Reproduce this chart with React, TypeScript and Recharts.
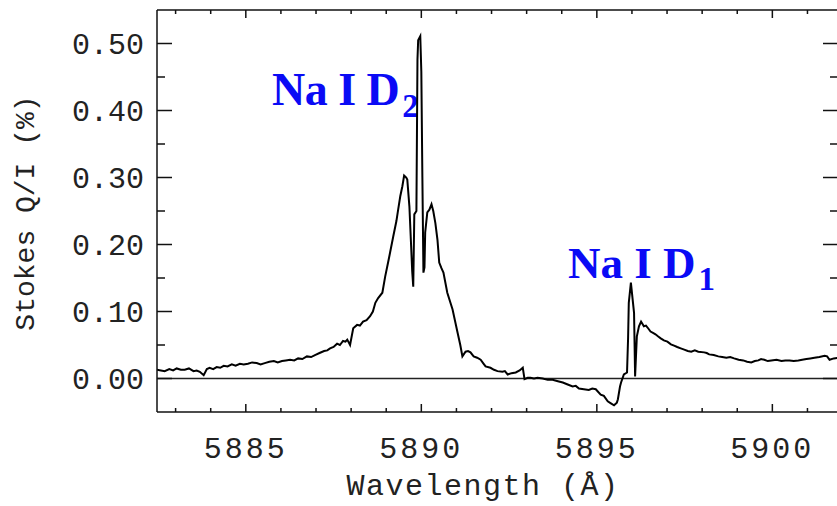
import React from "react";
import {
  LineChart,
  Line,
  XAxis,
  YAxis,
  ReferenceLine,
  Customized,
} from "recharts";

const wavelengths = [
  5882.46, 5882.58, 5882.69, 5882.82, 5882.93, 5883.03, 5883.15, 5883.26, 5883.38, 5883.51,
  5883.6, 5883.69, 5883.8, 5883.89, 5883.97, 5884.07, 5884.17, 5884.27, 5884.37, 5884.48,
  5884.6, 5884.71, 5884.83, 5884.94, 5885.06, 5885.18, 5885.31, 5885.42, 5885.54, 5885.67,
  5885.8, 5885.91, 5886.03, 5886.14, 5886.26, 5886.38, 5886.49, 5886.61, 5886.74, 5886.86,
  5886.97, 5887.1, 5887.23, 5887.32, 5887.4, 5887.5, 5887.6, 5887.68, 5887.77, 5887.84,
  5887.89, 5887.97, 5888.06, 5888.17, 5888.25, 5888.34, 5888.44, 5888.54, 5888.62, 5888.69,
  5888.77, 5888.89, 5888.97, 5889.06, 5889.11, 5889.2, 5889.29, 5889.34, 5889.4, 5889.46,
  5889.51, 5889.57, 5889.6, 5889.66, 5889.71, 5889.74, 5889.77, 5889.8, 5889.86, 5889.89,
  5889.91, 5889.97, 5890.0, 5890.03, 5890.06, 5890.09, 5890.11, 5890.17, 5890.23, 5890.29,
  5890.34, 5890.4, 5890.46, 5890.51, 5890.57, 5890.63, 5890.74, 5890.89, 5891.03, 5891.11,
  5891.17, 5891.26, 5891.33, 5891.4, 5891.49, 5891.59, 5891.69, 5891.76, 5891.83, 5891.97,
  5892.07, 5892.17, 5892.31, 5892.38, 5892.46, 5892.57, 5892.69, 5892.8, 5892.89, 5892.94,
  5893.03, 5893.11, 5893.21, 5893.31, 5893.46, 5893.6, 5893.74, 5893.89, 5894.03, 5894.17,
  5894.31, 5894.4, 5894.49, 5894.63, 5894.77, 5894.87, 5894.97, 5895.11, 5895.2, 5895.31,
  5895.4, 5895.49, 5895.57, 5895.6, 5895.66, 5895.69, 5895.77, 5895.86, 5895.89, 5895.91,
  5895.97, 5896.03, 5896.06, 5896.09, 5896.14, 5896.2, 5896.26, 5896.34, 5896.4, 5896.46,
  5896.53, 5896.6, 5896.67, 5896.74, 5896.82, 5896.91, 5897.01, 5897.11, 5897.2, 5897.29,
  5897.39, 5897.49, 5897.59, 5897.69, 5897.79, 5897.89, 5898.06, 5898.13, 5898.2, 5898.33,
  5898.46, 5898.57, 5898.69, 5898.8, 5898.91, 5899.04, 5899.17, 5899.28, 5899.4, 5899.5,
  5899.6, 5899.68, 5899.77, 5899.87, 5899.97, 5900.12, 5900.26, 5900.37, 5900.49, 5900.61,
  5900.74, 5900.85, 5900.97, 5901.08, 5901.2, 5901.34, 5901.49, 5901.56, 5901.63, 5901.75,
  5901.87,
];

const stokesQI = [
  0.013, 0.012, 0.011, 0.014, 0.012, 0.015, 0.013, 0.013, 0.015, 0.011,
  0.012, 0.01, 0.005, 0.014, 0.016, 0.014, 0.017, 0.016, 0.019, 0.018,
  0.021, 0.019, 0.022, 0.021, 0.022, 0.024, 0.023, 0.021, 0.023, 0.025,
  0.026, 0.024, 0.026, 0.027, 0.028, 0.027, 0.03, 0.029, 0.033, 0.032,
  0.035, 0.038, 0.041, 0.042, 0.045, 0.047, 0.052, 0.05, 0.056, 0.055,
  0.058, 0.05, 0.075, 0.08, 0.079, 0.085, 0.087, 0.093, 0.1, 0.113,
  0.12, 0.128, 0.152, 0.175, 0.188, 0.212, 0.235, 0.252, 0.272, 0.287,
  0.303, 0.3, 0.297, 0.257, 0.197, 0.16, 0.137, 0.245, 0.25, 0.476,
  0.505, 0.511, 0.458, 0.3, 0.158, 0.166, 0.218, 0.248, 0.252, 0.26,
  0.25, 0.232, 0.207, 0.173, 0.165, 0.158, 0.128, 0.103, 0.069, 0.05,
  0.033, 0.04, 0.041, 0.039, 0.033, 0.031, 0.028, 0.023, 0.018, 0.016,
  0.013, 0.011, 0.01, 0.011, 0.006, 0.008, 0.009, 0.012, 0.016, -0.001,
  0.001, 0.001, 0.0, 0.001, 0.0, -0.002, -0.002, -0.004, -0.006, -0.009,
  -0.012, -0.011, -0.015, -0.016, -0.017, -0.015, -0.016, -0.024, -0.026, -0.034,
  -0.037, -0.04, -0.036, -0.031, -0.012, -0.006, 0.006, 0.009, 0.06, 0.113,
  0.143, 0.113, 0.098, 0.003, 0.063, 0.078, 0.085, 0.078, 0.079, 0.075,
  0.07, 0.068, 0.066, 0.063, 0.06, 0.057, 0.055, 0.051, 0.049, 0.047,
  0.045, 0.043, 0.041, 0.04, 0.042, 0.04, 0.039, 0.038, 0.036, 0.035,
  0.033, 0.032, 0.031, 0.032, 0.03, 0.028, 0.027, 0.025, 0.024, 0.026,
  0.027, 0.029, 0.028, 0.026, 0.027, 0.028, 0.026, 0.027, 0.027, 0.026,
  0.027, 0.028, 0.029, 0.03, 0.031, 0.032, 0.034, 0.033, 0.028, 0.03,
  0.031,
];

const xTicks = [
  5883, 5884, 5885, 5886, 5887, 5888, 5889, 5890, 5891, 5892, 5893, 5894, 5895, 5896,
  5897, 5898, 5899, 5900, 5901,
];
const yTicks = [0, 0.05, 0.1, 0.15, 0.2, 0.25, 0.3, 0.35, 0.4, 0.45, 0.5];

const xDomain = [5882.47, 5901.87];
const yDomain = [-0.05, 0.55];

const data = wavelengths.map((wl, i) => ({ wl, qi: stokesQI[i] }));

const AX = "#111";
const TXT = "#222";
const MONO = "'Liberation Mono', 'DejaVu Sans Mono', monospace";

const isMajorX = (v: number) => Math.round(v) % 5 === 0;
const isMajorY = (v: number) => Math.round(v * 100) % 10 === 0;

const BottomTick = (props: any) => {
  const { x, y, payload } = props;
  const major = isMajorX(payload.value);
  return (
    <g>
      <line x1={x} x2={x} y1={y} y2={y - (major ? 8 : 4)} stroke={AX} strokeWidth={1.5} />
      {major && (
        <text
          x={x}
          y={y + 46}
          textAnchor="middle"
          fontFamily={MONO}
          fontSize={30}
          letterSpacing={3}
          fill={TXT}
        >
          {payload.value}
        </text>
      )}
    </g>
  );
};

const TopTick = (props: any) => {
  const { x, y, payload } = props;
  const major = isMajorX(payload.value);
  return <line x1={x} x2={x} y1={y} y2={y + (major ? 8 : 4)} stroke={AX} strokeWidth={1.5} />;
};

const LeftTick = (props: any) => {
  const { x, y, payload } = props;
  const major = isMajorY(payload.value);
  return (
    <g>
      <line x1={x} x2={x + (major ? 15 : 8)} y1={y} y2={y} stroke={AX} strokeWidth={1.5} />
      {major && (
        <text
          x={x - 13}
          y={y + 2}
          textAnchor="end"
          dominantBaseline="central"
          fontFamily={MONO}
          fontSize={30}
          fill={TXT}
        >
          {payload.value.toFixed(2)}
        </text>
      )}
    </g>
  );
};

const RightTick = (props: any) => {
  const { x, y, payload } = props;
  const major = isMajorY(payload.value);
  return <line x1={x} x2={x - (major ? 15 : 8)} y1={y} y2={y} stroke={AX} strokeWidth={1.5} />;
};

const Labels = () => (
  <g>
    <text
      x={26}
      y={213}
      transform="rotate(-90 26 213)"
      textAnchor="middle"
      dominantBaseline="central"
      fontFamily={MONO}
      fontSize={28}
      fill={TXT}
    >
      Stokes Q/I (%)
    </text>
    <text
      x={483}
      y={487}
      textAnchor="middle"
      dominantBaseline="central"
      fontFamily={MONO}
      fontSize={30}
      letterSpacing={1.5}
      fill={TXT}
    >
      Wavelength (Å)
    </text>
    <text
      x={272}
      y={105}
      fontFamily="'Liberation Serif', 'Times New Roman', serif"
      fontWeight="bold"
      fontSize={46}
      letterSpacing={-0.5}
      fill="#0a0af5"
    >
      <tspan>Na I D</tspan>
      <tspan dy={12} dx={3} fontSize={33}>2</tspan>
    </text>
    <text
      x={568}
      y={278}
      fontFamily="'Liberation Serif', 'Times New Roman', serif"
      fontWeight="bold"
      fontSize={45}
      letterSpacing={0}
      fill="#0a0af5"
    >
      <tspan>Na I D</tspan>
      <tspan dy={12} dx={3} fontSize={33}>1</tspan>
    </text>
  </g>
);

export default function App() {
  return (
    <div
      style={{
        position: "absolute",
        left: 0,
        top: 0,
        width: 837,
        height: 506,
        overflow: "hidden",
        background: "#fff",
      }}
    >
      <LineChart
        width={839}
        height={506}
        data={data}
        margin={{ top: 0, right: 0, bottom: 0, left: 0 }}
      >
        <XAxis
          xAxisId="bottom"
          dataKey="wl"
          type="number"
          domain={xDomain}
          allowDataOverflow
          ticks={xTicks}
          interval={0}
          orientation="bottom"
          height={94}
          tickSize={0}
          tickMargin={0}
          tickLine={false}
          axisLine={{ stroke: AX, strokeWidth: 1.5 }}
          tick={<BottomTick />}
        />
        <XAxis
          xAxisId="top"
          dataKey="wl"
          type="number"
          domain={xDomain}
          allowDataOverflow
          ticks={xTicks}
          interval={0}
          orientation="top"
          height={10}
          tickSize={0}
          tickMargin={0}
          tickLine={false}
          axisLine={{ stroke: AX, strokeWidth: 1.5 }}
          tick={<TopTick />}
        />
        <YAxis
          yAxisId="left"
          type="number"
          domain={yDomain}
          allowDataOverflow
          ticks={yTicks}
          interval={0}
          orientation="left"
          width={157}
          tickSize={0}
          tickMargin={0}
          tickLine={false}
          axisLine={{ stroke: AX, strokeWidth: 1.5 }}
          tick={<LeftTick />}
        />
        <YAxis
          yAxisId="right"
          type="number"
          domain={yDomain}
          allowDataOverflow
          ticks={yTicks}
          interval={0}
          orientation="right"
          width={1}
          tickSize={0}
          tickMargin={0}
          tickLine={false}
          axisLine={{ stroke: AX, strokeWidth: 1.5 }}
          tick={<RightTick />}
        />
        <ReferenceLine
          xAxisId="bottom"
          yAxisId="left"
          y={0}
          stroke="#222"
          strokeWidth={1.5}
          ifOverflow="extendDomain"
        />
        <Line
          xAxisId="bottom"
          yAxisId="left"
          dataKey="qi"
          type="linear"
          stroke="#000"
          strokeWidth={2}
          dot={false}
          isAnimationActive={false}
        />
        <Customized component={<Labels />} />
      </LineChart>
    </div>
  );
}
